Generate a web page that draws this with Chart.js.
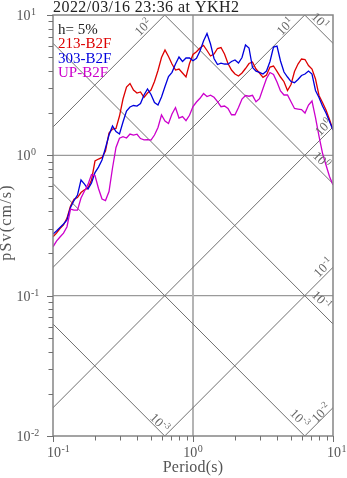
<!DOCTYPE html>
<html>
<head>
<meta charset="utf-8">
<script src="https://cdn.jsdelivr.net/npm/chart.js@4/dist/chart.umd.min.js"></script>
<style>
  html, body { margin: 0; padding: 0; background: #fff; }
  canvas { display: block; }
</style>
</head>
<body>
<canvas id="c" width="347" height="478"></canvas>
<script>
// Natural periods (s)
const periods = [
  0.1, 0.1059, 0.1122, 0.1189, 0.1259, 0.1334, 0.1413, 0.1496, 0.1585, 0.1679,
  0.1778, 0.1884, 0.1995, 0.2113, 0.2239, 0.2371, 0.2512, 0.2661, 0.2818, 0.2985,
  0.3162, 0.3350, 0.3548, 0.3758, 0.3981, 0.4217, 0.4467, 0.4732, 0.5012, 0.5309,
  0.5623, 0.5957, 0.6310, 0.6683, 0.7079, 0.7499, 0.7943, 0.8414, 0.8913, 0.9441,
  1.0, 1.059, 1.122, 1.189, 1.259, 1.334, 1.413, 1.496, 1.585, 1.679,
  1.778, 1.884, 1.995, 2.113, 2.239, 2.371, 2.512, 2.661, 2.818, 2.985,
  3.162, 3.350, 3.548, 3.758, 3.981, 4.217, 4.467, 4.732, 5.012, 5.309,
  5.623, 5.957, 6.310, 6.683, 7.079, 7.499, 7.943, 8.414, 8.913, 9.441, 10.0
];

// Pseudo velocity response (cm/s), h = 5%
const sv213 = [
  0.263, 0.279, 0.301, 0.319, 0.357, 0.435, 0.487, 0.500, 0.543, 0.568,
  0.585, 0.667, 0.911, 0.941, 0.966, 1.073, 1.442, 1.540, 1.557, 1.906,
  2.519, 3.068, 3.249, 2.921, 2.780, 2.827, 2.591, 2.780, 2.921, 3.357,
  4.022, 4.980, 5.630, 5.062, 4.474, 4.055, 4.122, 3.860, 3.615, 4.511,
  5.230, 5.467, 5.819, 6.081, 5.585, 5.104, 5.272, 5.771, 5.866, 5.272,
  4.511, 4.055, 3.797, 3.674, 3.860, 4.156, 4.511, 4.624, 4.122, 3.860,
  3.597, 3.735, 4.259, 4.330, 3.970, 3.615, 3.346, 2.897, 3.196, 3.957,
  4.474, 4.859, 4.819, 4.365, 4.122, 3.498, 2.669, 2.378, 2.103, 1.799, 1.514
];
const sv303 = [
  0.275, 0.289, 0.306, 0.324, 0.346, 0.425, 0.476, 0.521, 0.667, 0.624,
  0.575, 0.635, 0.754, 0.825, 0.926, 1.127, 1.395, 1.618, 1.478, 1.419,
  1.727, 2.069, 2.210, 2.265, 2.246, 2.340, 2.691, 2.970, 2.713, 2.378,
  2.283, 2.604, 3.093, 3.645, 3.905, 4.474, 5.020, 4.662, 4.939, 4.939,
  4.724, 4.906, 5.539, 6.526, 7.382, 6.213, 4.898, 4.438, 4.534, 4.474,
  4.460, 4.662, 4.778, 4.549, 4.980, 6.112, 5.819, 4.224, 3.976, 3.905,
  3.797, 3.990, 4.662, 5.915, 6.012, 4.700, 3.924, 3.615, 3.357, 3.292,
  3.470, 3.706, 3.797, 3.990, 3.797, 2.897, 2.582, 2.246, 2.002, 1.741, 1.514
];
const svUP = [
  0.223, 0.245, 0.262, 0.279, 0.310, 0.414, 0.407, 0.407, 0.496, 0.557,
  0.621, 0.730, 0.718, 0.580, 0.488, 0.476, 0.552, 0.812, 1.137, 1.324,
  1.357, 1.328, 1.419, 1.395, 1.414, 1.317, 1.290, 1.296, 1.285, 1.395,
  1.578, 1.938, 1.756, 1.685, 1.970, 2.191, 1.845, 1.890, 1.765, 1.931,
  2.227, 2.398, 2.549, 2.758, 2.625, 2.682, 2.591, 2.418, 2.220, 2.246,
  2.156, 1.947, 1.947, 2.191, 2.519, 2.669, 2.638, 2.677, 2.406, 2.536,
  2.993, 3.527, 3.892, 3.766, 3.330, 2.873, 2.691, 2.691, 2.406, 2.156,
  2.138, 2.121, 2.002, 2.283, 2.438, 1.859, 1.373, 1.038, 0.853, 0.706, 0.614
];

const seriesNames = ['213-B2F', '303-B2F', 'UP-B2F'];
const seriesColors = ['#dd0000', '#0000dd', '#cc00cc'];

// Axis decades and tick labels
const xTicks = [0.1, 1, 10];
const xTickExp = ['-1', '0', '1'];
const yTicks = [0.01, 0.1, 1, 10];
const yTickExp = ['-2', '-1', '0', '1'];
const gridT = [1];
const gridSv = [0.1, 1];

// Tripartite guide levels: constant acceleration (cm/s^2) and displacement (cm)
const accelLevels = [0.01, 0.1, 1, 10, 100];
const dispLevels = [0.001, 0.01, 0.1, 1, 10];
const guideLabels = [
  { kind: 'acc', level: 100, exp: '2', along: 24, perp: 7 },
  { kind: 'acc', level: 10, exp: '1', along: 22, perp: 6 },
  { kind: 'acc', level: 1, exp: '0', along: 7, perp: 7 },
  { kind: 'acc', level: 0.1, exp: '-1', along: 7, perp: 7 },
  { kind: 'acc', level: 0.01, exp: '-2', along: 12, perp: 5 },
  { kind: 'disp', level: 10, exp: '1', along: 25, perp: 7 },
  { kind: 'disp', level: 1, exp: '0', along: 25, perp: 9 },
  { kind: 'disp', level: 0.1, exp: '-1', along: 25, perp: 9 },
  { kind: 'disp', level: 0.01, exp: '-3', along: 16, perp: 9 },
  { kind: 'disp', level: 0.001, exp: '-3', along: 13, perp: 6 }
];

const X_MIN = 0.1, X_MAX = 10, Y_MIN = 0.01, Y_MAX = 10;
const TWO_PI = 2 * Math.PI;
const SERIF = '"Liberation Serif", "Times New Roman", serif';

function guideSv(kind, level, T) {
  return kind === 'acc' ? level * T / TWO_PI : TWO_PI * level / T;
}

function powWidth(ctx, exp, size, expSize) {
  ctx.font = size + 'px ' + SERIF;
  const w1 = ctx.measureText('10').width;
  ctx.font = expSize + 'px ' + SERIF;
  return w1 + 0.5 + ctx.measureText(exp).width;
}

function drawPow(ctx, x, y, exp, size, expSize, rise) {
  ctx.textAlign = 'left';
  ctx.textBaseline = 'alphabetic';
  ctx.font = size + 'px ' + SERIF;
  ctx.fillText('10', x, y);
  const w1 = ctx.measureText('10').width;
  ctx.font = expSize + 'px ' + SERIF;
  ctx.fillText(exp, x + w1 + 0.5, y - rise);
}

function seg(ctx, x1, y1, x2, y2) {
  ctx.beginPath();
  ctx.moveTo(x1, y1);
  ctx.lineTo(x2, y2);
  ctx.stroke();
}

const tripartite = {
  id: 'tripartite',
  beforeDatasetsDraw(chart) {
    const { ctx, chartArea: a, scales: { x, y } } = chart;
    ctx.save();
    // major grid lines
    ctx.strokeStyle = '#9a9a9a';
    ctx.lineWidth = 1.3;
    gridSv.forEach(v => { const py = y.getPixelForValue(v); seg(ctx, a.left, py, a.right, py); });
    ctx.strokeStyle = '#b4b4b4';
    ctx.lineWidth = 2;
    gridT.forEach(t => { const px = x.getPixelForValue(t); seg(ctx, px, a.top, px, a.bottom); });

    // diagonal guide lines
    ctx.beginPath();
    ctx.rect(a.left, a.top, a.right - a.left, a.bottom - a.top);
    ctx.clip();
    ctx.strokeStyle = '#707070';
    ctx.lineWidth = 1;
    const tA = 0.01, tB = 1000;
    accelLevels.forEach(lv => {
      seg(ctx, x.getPixelForValue(tA), y.getPixelForValue(guideSv('acc', lv, tA)),
               x.getPixelForValue(tB), y.getPixelForValue(guideSv('acc', lv, tB)));
    });
    dispLevels.forEach(lv => {
      seg(ctx, x.getPixelForValue(tA), y.getPixelForValue(guideSv('disp', lv, tA)),
               x.getPixelForValue(tB), y.getPixelForValue(guideSv('disp', lv, tB)));
    });
    ctx.restore();
  },
  afterDatasetsDraw(chart) {
    const { ctx, chartArea: a, scales: { x, y } } = chart;
    ctx.save();

    // frame
    ctx.strokeStyle = '#858585';
    ctx.lineWidth = 1.5;
    ctx.strokeRect(a.left, a.top, a.right - a.left, a.bottom - a.top);

    // tick marks (outside, left and bottom)
    ctx.strokeStyle = '#707070';
    ctx.lineWidth = 1;
    for (let d = 0; d < yTicks.length; d++) {
      const base = yTicks[d];
      for (let m = 1; m <= 9; m++) {
        const v = base * m;
        if (v > Y_MAX + 1e-9) break;
        const py = Math.round(y.getPixelForValue(v)) + 0.5;
        seg(ctx, a.left - (m === 1 ? 6 : 4.5), py, a.left, py);
      }
    }
    for (let d = 0; d < xTicks.length; d++) {
      const base = xTicks[d];
      for (let m = 1; m <= 9; m++) {
        const v = base * m;
        if (v > X_MAX + 1e-9) break;
        const px = Math.round(x.getPixelForValue(v)) + 0.5;
        seg(ctx, px, a.bottom, px, a.bottom + (m === 1 ? 6 : 4.5));
      }
    }

    // tick labels
    ctx.fillStyle = '#555';
    yTicks.forEach((v, i) => {
      const py = y.getPixelForValue(v);
      drawPow(ctx, 16.5, py + 5, yTickExp[i], 14, 10, 5);
    });
    xTicks.forEach((v, i) => {
      const px = x.getPixelForValue(v);
      ctx.font = '14px ' + SERIF;
      const wBase = ctx.measureText('10').width;
      const w = powWidth(ctx, xTickExp[i], 14, 10);
      // end decades keep the mantissa on the tick, the middle one is centred as a whole
      const left = (i === 0 || i === xTicks.length - 1) ? px - wBase / 2 + 1 : px - w / 2;
      drawPow(ctx, left, 457, xTickExp[i], 14, 10, 5);
    });

    // guide line labels
    ctx.fillStyle = '#666';
    guideLabels.forEach(g => {
      let tExit = g.kind === 'acc' ? Y_MAX * TWO_PI / g.level : TWO_PI * g.level / Y_MIN;
      tExit = Math.min(tExit, X_MAX);
      const p1x = x.getPixelForValue(tExit), p1y = y.getPixelForValue(guideSv(g.kind, g.level, tExit));
      const p2x = x.getPixelForValue(tExit / 2), p2y = y.getPixelForValue(guideSv(g.kind, g.level, tExit / 2));
      const len = Math.hypot(p2x - p1x, p2y - p1y);
      const dx = (p2x - p1x) / len, dy = (p2y - p1y) / len;
      const nx = -dy, ny = dx;
      const cx = p1x + g.along * dx + g.perp * nx;
      const cy = p1y + g.along * dy + g.perp * ny;
      ctx.save();
      ctx.translate(cx, cy);
      ctx.rotate(g.kind === 'acc' ? -Math.PI / 4 : Math.PI / 4);
      const w = powWidth(ctx, g.exp, 13, 9);
      drawPow(ctx, -w / 2, 4.5, g.exp, 13, 9, 5);
      ctx.restore();
    });

    // legend block
    ctx.textAlign = 'left';
    ctx.textBaseline = 'alphabetic';
    ctx.font = '15px ' + SERIF;
    ctx.fillStyle = '#222';
    ctx.fillText('h= 5%', 58, 34.3);
    const legendY = [48.3, 63.3, 76.5];
    seriesNames.forEach((n, i) => {
      ctx.fillStyle = seriesColors[i];
      ctx.fillText(n, 58, legendY[i]);
    });
    ctx.restore();
  },
  afterDraw(chart) {
    const { ctx, chartArea: a } = chart;
    ctx.save();
    ctx.fillStyle = '#222';
    ctx.font = '16px ' + SERIF;
    ctx.textAlign = 'left';
    ctx.textBaseline = 'alphabetic';
    ctx.letterSpacing = '0.45px';
    ctx.fillText('2022/03/16 23:36 at YKH2', 53, 12);

    ctx.fillStyle = '#555';
    ctx.textAlign = 'center';
    ctx.letterSpacing = '0.2px';
    ctx.fillText('Period(s)', (a.left + a.right) / 2, 472);

    ctx.letterSpacing = '1.2px';
    ctx.translate(10.5, (a.top + a.bottom) / 2 - 3);
    ctx.rotate(-Math.PI / 2);
    ctx.fillText('pSv(cm/s)', 0, 0);
    ctx.restore();
  }
};

const seriesValues = [sv213, sv303, svUP];
const datasets = seriesNames.map((name, i) => ({
  label: name,
  data: periods.map((t, k) => ({ x: t, y: seriesValues[i][k] })),
  borderColor: seriesColors[i],
  borderWidth: 1.3,
  pointRadius: 0,
  fill: false,
  tension: 0,
  order: 3 - i
}));

new Chart(document.getElementById('c').getContext('2d'), {
  type: 'line',
  data: { datasets },
  options: {
    responsive: false,
    animation: false,
    devicePixelRatio: 1,
    layout: { padding: { left: 53, right: 14, top: 15, bottom: 42 } },
    scales: {
      x: { type: 'logarithmic', min: X_MIN, max: X_MAX, display: false },
      y: { type: 'logarithmic', min: Y_MIN, max: Y_MAX, display: false }
    },
    plugins: { legend: { display: false }, tooltip: { enabled: false } }
  },
  plugins: [tripartite]
});
</script>
</body>
</html>
